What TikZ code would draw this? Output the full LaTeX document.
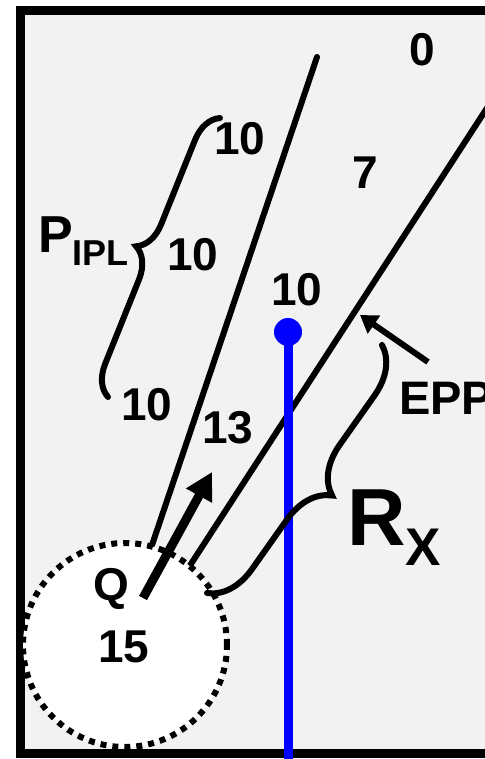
\documentclass[tikz,border=0pt]{standalone}
\usepackage{fontspec}
\setmainfont{Liberation Sans}
\usetikzlibrary{arrows.meta,decorations.pathreplacing}
\definecolor{panelgray}{HTML}{F2F2F2}
\definecolor{probeblue}{HTML}{0000FF}

\begin{document}
\begin{tikzpicture}[x=1pt, y=-1pt,
  num/.style={font=\fontsize{46}{50}\selectfont\bfseries, inner sep=0pt},
  big/.style={font=\fontsize{52}{56}\selectfont\bfseries, inner sep=0pt, anchor=base west},
  ray/.style={line width=6pt, line cap=round},
  bracket/.style={line width=6pt, line cap=round, decorate, decoration={brace, amplitude=#1}},
  probe/.style={line width=9pt, probeblue}
]
\useasboundingbox (0,0) rectangle (484,759);
\draw[line width=9pt, fill=panelgray] (20,11) rectangle (700,753);

\coordinate (l1top) at (317,57);
\coordinate (l1bot) at (152,545);
\coordinate (l2top) at (500,88);
\coordinate (l2bot) at (189,567);
\draw[ray] (l1top) -- (l1bot);
\draw[ray] (l2top) -- (l2bot);

\node[circle, minimum size=204pt, inner sep=0pt, fill=white, draw,
  line width=6pt, dash pattern=on 6pt off 6pt] (src) at (125,645) {};

\coordinate (qfrom) at (143,598);
\coordinate (qto) at (212,472);
\draw[line width=9pt, -{Triangle[length=27pt, width=28pt]}] (qfrom) -- (qto);

\coordinate (tip) at (288,332);
\coordinate (probebot) at (288,760);
\draw[probe] (tip) -- (probebot);
\fill[probeblue] (tip) circle (14pt);

\coordinate (pbot) at (108,397);
\coordinate (ptop) at (220,118);
\draw[bracket=30pt] (pbot) -- (ptop);
\coordinate (rtop) at (382,345);
\coordinate (rbot) at (207,593);
\draw[bracket=46pt] (rtop) -- (rbot);

\coordinate (eppfrom) at (428,362);
\coordinate (eppto) at (360,315);
\draw[ray, line cap=butt, -{Triangle[length=17pt, width=21pt]}] (eppfrom) -- (eppto);

\node[num] (v0) at (422,50) {0};
\node[num] (v10a) at (240,139) {10};
\node[num] (v7) at (365,173) {7};
\node[num] (v10b) at (193,255) {10};
\node[num] (v10c) at (297,290) {10};
\node[num] (v10d) at (147,405) {10};
\node[num] (v13) at (228,428) {13};
\node[num, anchor=base] (q) at (111,600) {Q};
\node[num] (v15) at (124,647) {15};
\node[big] (pipl) at (38,252) {P\raisebox{-13pt}{\fontsize{36}{40}\selectfont IPL}};
\node[big, font=\fontsize{47}{50}\selectfont\bfseries] (epp) at (399,414) {EPP};
\node[big, font=\fontsize{81}{85}\selectfont\bfseries] (rx) at (347,545)
  {R\raisebox{-20pt}{\fontsize{53}{56}\selectfont X}};
\end{tikzpicture}
\end{document}
